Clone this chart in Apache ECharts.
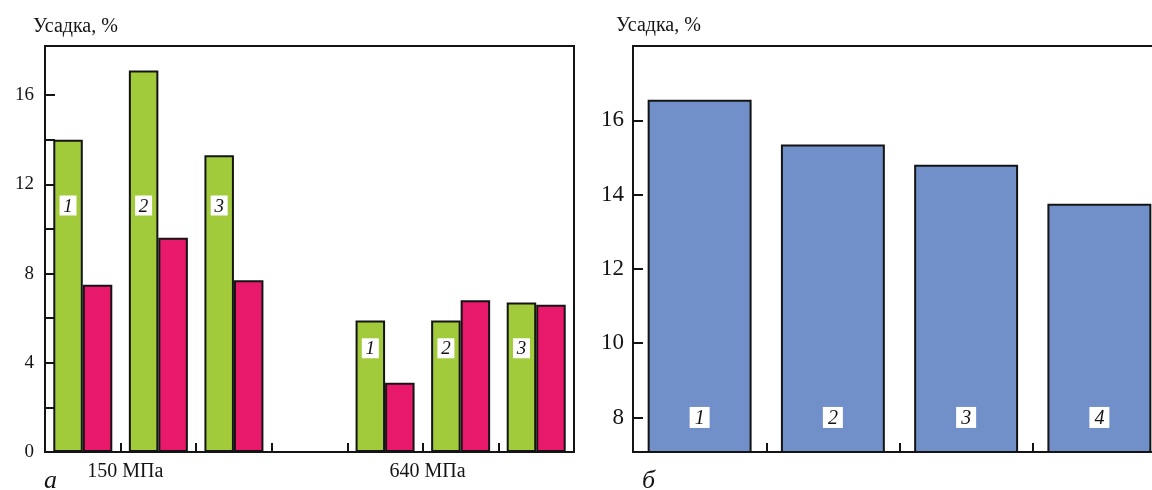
<!DOCTYPE html>
<html><head><meta charset="utf-8">
<script src="https://cdn.jsdelivr.net/npm/echarts@6/dist/echarts.min.js"></script>
<style>html,body{margin:0;padding:0;background:#fff}#c{width:1152px;height:490px}</style>
</head><body><div id="c"></div>
<script>
// ---- Panel а ----
const categoriesA = ['1', '2', '3', '', '1', '2', '3'];
const groupLabelsA = ['', '150 МПа', '', '', '', '640 МПа', ''];
const greenA = [14.0, 17.1, 13.3, null, 5.9, 5.9, 6.7];
const pinkA = [7.5, 9.6, 7.7, null, 3.1, 6.8, 6.6];
const labelLevelA = [11.05, 11.05, 11.05, null, 4.65, 4.65, 4.65];
const yTicksA = [2, 4, 6, 8, 10, 12, 14, 16];
const yLabelsA = [0, 4, 8, 12, 16];
// ---- Panel б ----
const categoriesB = ['1', '2', '3', '4'];
const blueB = [16.55, 15.35, 14.8, 13.75];
const labelLevelB = [8, 8, 8, 8];
const yTicksB = [8, 10, 12, 14, 16];
const yLabelsB = [8, 10, 12, 14, 16];

const SERIF = '"Liberation Serif", "Times New Roman", serif';
const INK = '#141414';
const BAR_W_A = 29.5;

const labelPts = (cats, lv) => cats.map((c, i) => c && lv[i] != null ? { name: c, value: [i, lv[i]] } : null).filter(Boolean);

const chart = echarts.init(document.getElementById('c'), null, { renderer: 'canvas' });
chart.setOption({
  backgroundColor: '#ffffff',
  animation: false,
  grid: [
    { left: 45, top: 46, width: 529, bottom: 38, outerBoundsMode: 'none', containLabel: false, show: true, borderColor: INK, borderWidth: 2, backgroundColor: 'transparent' },
    { left: 633, top: 46, width: 533, bottom: 38, outerBoundsMode: 'none', containLabel: false, show: true, borderColor: INK, borderWidth: 2, backgroundColor: 'transparent' }
  ],
  xAxis: [
    {
      type: 'category', gridIndex: 0, data: categoriesA, boundaryGap: true,
      axisLine: { show: true, lineStyle: { color: INK, width: 2 } },
      axisTick: { show: true, interval: 0, inside: true, length: 9, alignWithLabel: false, lineStyle: { color: INK, width: 2 } },
      axisLabel: {
        interval: 0, margin: 10,
        formatter: (v, i) => groupLabelsA[i] ? '{g|' + groupLabelsA[i] + '}' : '',
        rich: { g: { fontFamily: SERIF, fontSize: 20, color: INK, padding: [0, 66, 0, 0] } }
      }
    },
    {
      type: 'category', gridIndex: 1, data: categoriesB, boundaryGap: true,
      axisLine: { show: true, lineStyle: { color: INK, width: 2 } },
      axisTick: { show: true, interval: 0, inside: true, length: 9, alignWithLabel: false, lineStyle: { color: INK, width: 2 } },
      axisLabel: { show: false }
    }
  ],
  yAxis: [
    {
      type: 'value', gridIndex: 0, min: 0, max: 18.2,
      splitLine: { show: false },
      axisLine: { show: true, lineStyle: { color: INK, width: 2 } },
      axisTick: { show: true, inside: true, length: 10, customValues: yTicksA, lineStyle: { color: INK, width: 2 } },
      axisLabel: { customValues: yLabelsA, margin: 11, fontFamily: SERIF, fontSize: 19, color: INK }
    },
    {
      type: 'value', gridIndex: 1, min: 7.07, max: 18,
      splitLine: { show: false },
      axisLine: { show: true, lineStyle: { color: INK, width: 2 } },
      axisTick: { show: true, inside: true, length: 10, customValues: yTicksB, lineStyle: { color: INK, width: 2 } },
      axisLabel: { customValues: yLabelsB, margin: 9, fontFamily: SERIF, fontSize: 23, color: INK }
    }
  ],
  graphic: [
    { type: 'text', left: 33, top: 17, style: { text: 'Усадка, %', font: '20px ' + SERIF, fill: INK } },
    { type: 'text', left: 616, top: 16, style: { text: 'Усадка, %', font: '20px ' + SERIF, fill: INK } },
    { type: 'text', left: 44, top: 468, style: { text: 'а', font: 'italic 26px ' + SERIF, fill: INK } },
    { type: 'text', left: 642, top: 468, style: { text: 'б', font: 'italic 26px ' + SERIF, fill: INK } }
  ],
  series: [
    {
      type: 'bar', xAxisIndex: 0, yAxisIndex: 0, data: greenA, barWidth: BAR_W_A, barGap: '0%',
      itemStyle: { color: '#a2cb3b', borderColor: INK, borderWidth: 2 }, z: 2
    },
    {
      type: 'bar', xAxisIndex: 0, yAxisIndex: 0, data: pinkA, barWidth: BAR_W_A, barGap: '0%',
      itemStyle: { color: '#e8186a', borderColor: INK, borderWidth: 2 }, z: 2
    },
    {
      type: 'scatter', xAxisIndex: 0, yAxisIndex: 0, data: labelPts(categoriesA, labelLevelA),
      symbol: 'rect', symbolSize: [17, 20], symbolOffset: [-BAR_W_A / 2, 0],
      itemStyle: { color: '#ffffff', opacity: 1 }, z: 5,
      label: { show: true, position: 'inside', offset: [0, 1], formatter: '{b}', fontFamily: SERIF, fontStyle: 'italic', fontSize: 19, color: INK }
    },
    {
      type: 'bar', xAxisIndex: 1, yAxisIndex: 1, data: blueB, barCategoryGap: '22%',
      itemStyle: { color: '#7190c9', borderColor: INK, borderWidth: 2 }, z: 2
    },
    {
      type: 'scatter', xAxisIndex: 1, yAxisIndex: 1, data: labelPts(categoriesB, labelLevelB),
      symbol: 'rect', symbolSize: [20, 21],
      itemStyle: { color: '#ffffff', opacity: 1 }, z: 5,
      label: { show: true, position: 'inside', offset: [0, 1], formatter: '{b}', fontFamily: SERIF, fontStyle: 'italic', fontSize: 20, color: INK }
    }
  ]
});
</script>
</body></html>
